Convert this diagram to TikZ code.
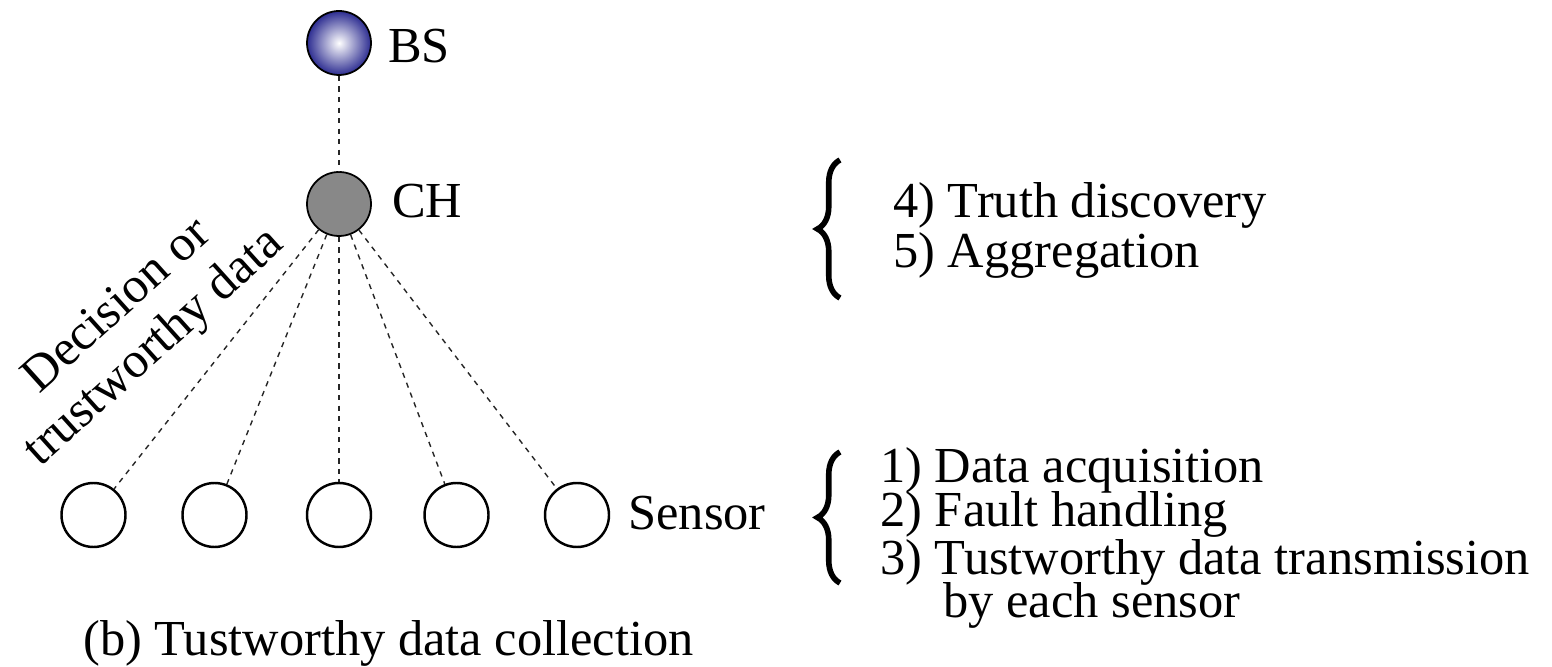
\documentclass[tikz,border=0pt]{standalone}
\usepackage{fontspec}
\setmainfont{Liberation Serif}
\usetikzlibrary{decorations.pathreplacing}
\definecolor{bsblu}{RGB}{45,45,145}
\definecolor{chgrigio}{RGB}{136,136,136}

\begin{document}
\begin{tikzpicture}[
        font=\fontsize{28.7}{28.5}\selectfont,
        nodo/.style={circle, draw=black, line width=1.4pt, minimum size=1.28cm, inner sep=0pt},
        etich/.style={anchor=base west, inner sep=0pt},
        link/.style={dashed, line width=0.8pt, black!85},
        graffa/.style={decorate, decoration={brace, amplitude=0.45cm}, line width=3.2pt}
    ]
        \useasboundingbox (0,0) rectangle (31.04,13.34);

        % Stazione base e cluster head
        \node[nodo, line width=1pt, inner color=white, outer color=bsblu] (bs) at (6.78,12.48) {};
        \node[nodo, line width=1pt, fill=chgrigio] (ch) at (6.78,9.26) {};
        \node[etich] (bslab) at (7.76,12.08) {BS};
        \node[etich] (chlab) at (7.84,8.98) {CH};

        % Sensori
        \foreach \x [count=\i] in {1.87,4.29,6.78,9.13,11.54}
            \node[nodo] (s\i) at (\x,3.04) {};
        \node[etich] (slab) at (12.56,2.74) {Sensor};

        % Collegamenti
        \draw[link] (bs) -- (ch);
        \foreach \i in {1,...,5}
            \draw[link] (ch) -- (s\i);

        \node[rotate=42, align=center, inner sep=0pt] (nota) at (2.74,6.78) {Decision or\\[3pt]trustworthy data};

        % Graffe e passi
        \draw[graffa] (16.8,7.38) -- (16.8,10.14);
        \draw[graffa] (16.8,1.68) -- (16.8,4.3);
        \node[etich] (p4) at (17.86,8.98) {4) Truth discovery};
        \node[etich] (p5) at (17.86,7.98) {5) Aggregation};
        \node[etich] (p1) at (17.6,3.68) {1) Data acquisition};
        \node[etich] (p2) at (17.6,2.8) {2) Fault handling};
        \node[etich] (p3) at (17.6,1.84) {3) Tustworthy data transmission};
        \node[etich] (p3b) at (18.86,0.98) {by each sensor};

        % Didascalia
        \node[etich] (cap) at (1.66,0.24) {(b) Tustworthy data collection};
    \end{tikzpicture}
\end{document}
